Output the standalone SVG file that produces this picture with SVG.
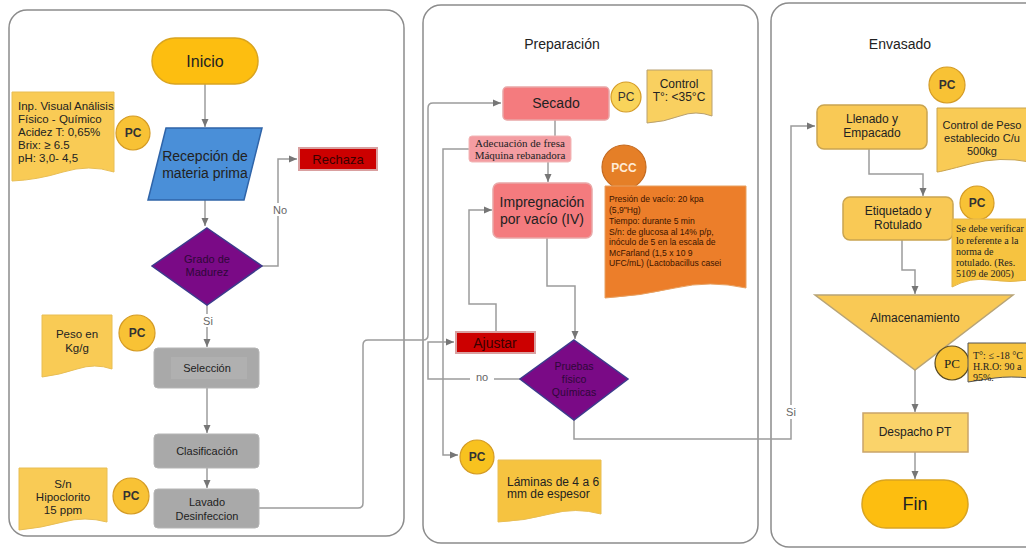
<svg xmlns="http://www.w3.org/2000/svg" width="1026" height="552" viewBox="0 0 1026 552">
<style>
.panel{fill:#fff;stroke:#8c8c8c;stroke-width:1.5}
.title{font-family:"Liberation Sans",Arial,sans-serif;font-size:14px;fill:#222;text-anchor:middle}
.t{font-family:"Liberation Sans",Arial,sans-serif;fill:#222;text-anchor:middle}
.ts{font-family:"Liberation Serif","Times New Roman",serif;fill:#222}
.conn{fill:none;stroke:#9c9c9c;stroke-width:1.5}
.lbl{font-family:"Liberation Sans",Arial,sans-serif;font-size:11px;fill:#666;text-anchor:middle}
.pill{fill:#FDBE10;stroke:#D9A420;stroke-width:1.5}
.pc{fill:#F8C235;stroke:#D49B25;stroke-width:1.2}
.pct{font-family:"Liberation Sans",Arial,sans-serif;font-size:12px;font-weight:bold;fill:#333;text-anchor:middle}
.doc{fill:#F9CB55;stroke:#E8BE55;stroke-width:1}
.gray{fill:#A9A9A9;stroke:#B5B5B5;stroke-width:1}
.pink{fill:#F47B7E;stroke:#E9A7A7;stroke-width:1.5}
.red{fill:#CC0000;stroke:#D9A0A0;stroke-width:2}
.dia{fill:#7A0A86;stroke:#3C3A8C;stroke-width:1.5}
.ybox{fill:#F9C955;stroke:#C9A450;stroke-width:1.5}
</style>
<defs>
<marker id="ah" markerWidth="8" markerHeight="8" refX="8" refY="4" orient="auto" markerUnits="userSpaceOnUse">
<path d="M0,0.5 L8,4 L0,7.5 z" fill="#767676"/>
</marker>
</defs>

<g id="panels">
<rect class="panel" x="9" y="10" width="395" height="526" rx="18"/>
<rect class="panel" x="423" y="5" width="335" height="538" rx="18"/>
<rect class="panel" x="771" y="3" width="275" height="544" rx="18"/>
<text class="title" x="562" y="49">Preparación</text>
<text class="title" x="900" y="49">Envasado</text>
</g>

<g id="connectors">
<path id="c1" class="conn" d="M205,84 V127" marker-end="url(#ah)"/>
<path id="c2" class="conn" d="M205,200 V226" marker-end="url(#ah)"/>
<path id="c3" class="conn" d="M262,266 H278 V159 H297" marker-end="url(#ah)"/>
<path id="c4" class="conn" d="M207,305 V347" marker-end="url(#ah)"/>
<path id="c5" class="conn" d="M207,388 V433" marker-end="url(#ah)"/>
<path id="c6" class="conn" d="M207,468 V488" marker-end="url(#ah)"/>
<path id="c7" class="conn" d="M259,508 H358 Q363,508 363,503 V345 Q363,340 368,340 H423 Q428,340 428,335 V108 Q428,103 433,103 H501" marker-end="url(#ah)"/>
<path id="c8" class="conn" d="M555,120 V136"/>
<path id="c9" class="conn" d="M548,162 V182" marker-end="url(#ah)"/>
<path id="c10" class="conn" d="M469,149 H443 V455 H458" marker-end="url(#ah)"/>
<path id="c11" class="conn" d="M547,238 V286 H575 V339" marker-end="url(#ah)"/>
<path id="c12" class="conn" d="M520,379 H428 V342 H454" marker-end="url(#ah)"/>
<path id="c13" class="conn" d="M496,331 V304 H469 V210 H492" marker-end="url(#ah)"/>
<path id="c14" class="conn" d="M574,420 V439 H791 V126 H815" marker-end="url(#ah)"/>
<path id="c15" class="conn" d="M869,149 V174 H923 V196" marker-end="url(#ah)"/>
<path id="c16" class="conn" d="M902,240 V270 H915 V294" marker-end="url(#ah)"/>
<path id="c17" class="conn" d="M915,370 V412" marker-end="url(#ah)"/>
<path id="c18" class="conn" d="M915,452 V479" marker-end="url(#ah)"/>
<rect x="272" y="203" width="14" height="13" fill="#fff"/>
<text class="lbl" x="280" y="214">No</text>
<rect x="200" y="314" width="16" height="13" fill="#fff"/>
<text class="lbl" x="208" y="325">Si</text>
<rect x="470" y="371" width="24" height="12" fill="#fff"/>
<text class="lbl" x="482" y="381">no</text>
<rect x="784" y="405" width="14" height="14" fill="#fff"/>
<text class="lbl" x="791" y="416">Si</text>
</g>

<g id="inicio">
<rect class="pill" x="152" y="38" width="106" height="46" rx="23"/>
<text class="t" x="205" y="67" font-size="16">Inicio</text>
</g>

<g id="doc-inspeccion">
<path class="doc" d="M12,92 H114 V172 Q89,164 63,172 T12,181 Z"/>
<text class="t" x="18" y="110" font-size="11.5" style="text-anchor:start">Inp. Visual Análisis</text>
<text class="t" x="18" y="123" font-size="11.5" style="text-anchor:start">Físico - Químico</text>
<text class="t" x="18" y="136" font-size="11.5" style="text-anchor:start">Acidez T: 0,65%</text>
<text class="t" x="18" y="149" font-size="11.5" style="text-anchor:start">Brix: ≥ 6.5</text>
<text class="t" x="18" y="162" font-size="11.5" style="text-anchor:start">pH: 3,0- 4,5</text>
</g>
<g id="pc-recepcion">
<circle class="pc" cx="133" cy="133" r="17"/>
<text class="pct" x="133" y="137">PC</text>
</g>

<g id="recepcion">
<path d="M166,128 H262 L244,200 H148 Z" fill="#4A8FD8" stroke="#2F64A8" stroke-width="1.5"/>
<text class="t" x="205" y="161" font-size="14" fill="#1b2540">Recepción de</text>
<text class="t" x="205" y="178" font-size="14" fill="#1b2540">materia prima</text>
</g>

<g id="grado">
<path class="dia" d="M207,228 L262,266 L207,305 L152,266 Z"/>
<text class="t" x="207" y="263" font-size="11" style="fill:#2e0838">Grado de</text>
<text class="t" x="207" y="276" font-size="11" style="fill:#2e0838">Madurez</text>
</g>

<g id="rechaza">
<rect class="red" x="299" y="148" width="78" height="22"/>
<text class="t" x="338" y="164" font-size="13" style="fill:#3a0000">Rechaza</text>
</g>

<g id="doc-peso">
<path class="doc" d="M42,315 H112 V369 Q95,363 77,369 T42,377 Z"/>
<text class="t" x="77" y="338" font-size="11.5">Peso en</text>
<text class="t" x="77" y="352" font-size="11.5">Kg/g</text>
</g>
<g id="pc-seleccion">
<circle class="pc" cx="137" cy="333" r="18"/>
<text class="pct" x="137" y="337">PC</text>
</g>

<g id="seleccion">
<rect class="gray" x="154" y="348" width="105" height="40" rx="4"/>
<rect x="171" y="357" width="76" height="22" fill="#B0B0B0"/>
<text class="t" x="207" y="372" font-size="11">Selección</text>
</g>

<g id="clasificacion">
<rect class="gray" x="154" y="434" width="105" height="34" rx="4"/>
<text class="t" x="207" y="455" font-size="11">Clasificación</text>
</g>

<g id="lavado">
<rect class="gray" x="154" y="489" width="105" height="39" rx="4"/>
<text class="t" x="207" y="506" font-size="11">Lavado</text>
<text class="t" x="207" y="520" font-size="11">Desinfeccion</text>
</g>

<g id="doc-hipoclorito">
<path class="doc" d="M19,468 H107 V522 Q85,516 63,522 T19,530 Z"/>
<text class="t" x="63" y="488" font-size="11.5">S/n</text>
<text class="t" x="63" y="501" font-size="11.5">Hipoclorito</text>
<text class="t" x="63" y="514" font-size="11.5">15 ppm</text>
</g>
<g id="pc-lavado">
<circle class="pc" cx="131" cy="496" r="18"/>
<text class="pct" x="131" y="500">PC</text>
</g>

<g id="secado">
<rect class="pink" x="503" y="87" width="106" height="33" rx="4"/>
<text class="t" x="556" y="108" font-size="14">Secado</text>
</g>
<g id="pc-secado">
<circle class="pc" cx="626" cy="97" r="15" style="fill:#F9D45A"/>
<text class="pct" x="626" y="101" style="font-weight:normal">PC</text>
</g>
<g id="doc-control">
<path class="doc" d="M647,70 H712 V116 Q696,110 680,116 T647,123 Z" style="fill:#F9D060;stroke:#B8A070"/>
<text class="t" x="679" y="88" font-size="12">Control</text>
<text class="t" x="679" y="101" font-size="12">T°: &lt;35°C</text>
</g>

<g id="adecuacion">
<rect x="469" y="136" width="102" height="26" rx="3" fill="#F49DA2" stroke="#F2B6B6"/>
<text class="ts" x="520" y="147" font-size="11" text-anchor="middle">Adecuación de fresa</text>
<text class="ts" x="520" y="159" font-size="11" text-anchor="middle">Máquina rebanadora</text>
</g>

<g id="impregnacion">
<rect class="pink" x="493" y="183" width="99" height="55" rx="6"/>
<text class="t" x="542" y="207" font-size="14">Impregnación</text>
<text class="t" x="542" y="224" font-size="14">por vacío (IV)</text>
</g>
<g id="pcc">
<circle cx="624" cy="167" r="22" fill="#E57F27" stroke="#C46A20" stroke-width="1.2"/>
<text class="pct" x="624" y="172" style="fill:#FFEBD6">PCC</text>
</g>
<g id="doc-pcc">
<path d="M605,186 H746 V288 Q710,280 675,288 T605,298 Z" fill="#EC7E2A" stroke="#E7A060"/>
<g font-size="8.6" fill="#3a1400" font-family="'Liberation Sans',Arial,sans-serif">
<text x="609" y="202">Presión de vacío: 20 kpa</text>
<text x="609" y="213">(5,9"Hg)</text>
<text x="609" y="224">Tiempo: durante 5 min</text>
<text x="609" y="235">S/n: de glucosa al 14% p/p,</text>
<text x="609" y="245">inóculo de 5 en la escala de</text>
<text x="609" y="256">McFarland (1,5 x 10 9</text>
<text x="609" y="266">UFC/mL) (Lactobacillus casei</text>
</g>
</g>

<g id="ajustar">
<rect class="red" x="456" y="332" width="79" height="21"/>
<text class="t" x="495" y="348" font-size="14" style="fill:#3a0000">Ajustar</text>
</g>

<g id="pruebas">
<path class="dia" d="M574,340 L628,379 L574,420 L520,379 Z"/>
<text class="t" x="574" y="370" font-size="10.5" style="fill:#2e0838">Pruebas</text>
<text class="t" x="574" y="383" font-size="10.5" style="fill:#2e0838">físico</text>
<text class="t" x="574" y="396" font-size="10.5" style="fill:#2e0838">Químicas</text>
</g>

<g id="pc-laminas">
<circle class="pc" cx="477" cy="457" r="17" style="fill:#F8C21F"/>
<text class="pct" x="477" y="461">PC</text>
</g>
<g id="doc-laminas">
<path class="doc" d="M498,460 H601 V514 Q576,507 550,514 T498,522 Z" style="fill:#F6C340"/>
<text class="t" x="507" y="486" font-size="12" style="text-anchor:start">Láminas de 4 a 6</text>
<text class="t" x="507" y="498" font-size="12" style="text-anchor:start">mm de espesor</text>
</g>

<g id="pc-llenado">
<circle class="pc" cx="947" cy="85" r="18"/>
<text class="pct" x="947" y="89">PC</text>
</g>
<g id="llenado">
<rect class="ybox" x="817" y="105" width="110" height="44" rx="7"/>
<text class="t" x="872" y="123" font-size="12">Llenado y</text>
<text class="t" x="872" y="137" font-size="12">Empacado</text>
</g>
<g id="doc-peso-control">
<path class="doc" d="M937,108 H1030 V162 Q1000,156 970,164 T937,172 Z" style="stroke:#C9A450"/>
<text class="t" x="982" y="129" font-size="11">Control de Peso</text>
<text class="t" x="982" y="142" font-size="11">establecido C/u</text>
<text class="t" x="982" y="155" font-size="11">500kg</text>
</g>

<g id="etiquetado">
<rect class="ybox" x="843" y="197" width="110" height="43" rx="7"/>
<text class="t" x="898" y="215" font-size="12">Etiquetado y</text>
<text class="t" x="898" y="229" font-size="12">Rotulado</text>
</g>
<g id="pc-etiquetado">
<circle class="pc" cx="977" cy="203" r="17"/>
<text class="pct" x="977" y="207">PC</text>
</g>
<g id="doc-rotulado">
<path d="M952,219 H1030 V280 Q1010,283 990,280 T952,287 Z" fill="#F6C340" stroke="#E3B54A"/>
<g font-size="10" class="ts" fill="#222">
<text x="956" y="232">Se debe verificar</text>
<text x="956" y="244">lo referente a la</text>
<text x="956" y="255">norma de</text>
<text x="956" y="266">rotulado. (Res.</text>
<text x="956" y="277">5109 de 2005)</text>
</g>
</g>

<g id="almacenamiento">
<path d="M815,295 H1013 L915,370 Z" fill="#F9C955" stroke="#B8A476" stroke-width="1.5"/>
<text class="t" x="915" y="322" font-size="12">Almacenamiento</text>
</g>
<g id="pc-almacenamiento">
<circle cx="952" cy="363" r="17" fill="#F8C235" stroke="#5a4a20" stroke-width="1.2"/>
<text class="ts" x="952" y="368" font-size="13" text-anchor="middle">PC</text>
</g>
<g id="doc-temp">
<path d="M968,343 H1030 V378 Q1010,376 995,378 T968,382 Z" fill="#F6C340" stroke="#555" stroke-width="1"/>
<g font-size="10" class="ts" fill="#222">
<text x="973" y="359">T°: ≤ -18 °C</text>
<text x="973" y="370">H.R.O: 90 a</text>
<text x="973" y="381">95%.</text>
</g>
</g>

<g id="despacho">
<rect x="863" y="413" width="105" height="39" fill="#FAD36A" stroke="#C9A46A" stroke-width="1.5"/>
<text class="t" x="915" y="436" font-size="12">Despacho PT</text>
</g>

<g id="fin">
<rect class="pill" x="862" y="480" width="106" height="48" rx="24"/>
<text class="t" x="915" y="510" font-size="18">Fin</text>
</g>
</svg>
